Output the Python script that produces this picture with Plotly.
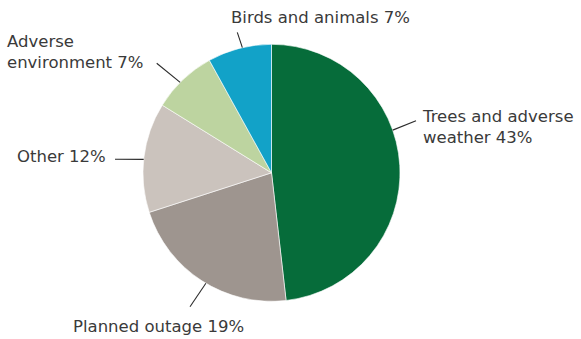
import math
import plotly.graph_objects as go

# ---- data ----
categories = ["Trees and adverse weather", "Planned outage", "Other",
              "Adverse environment", "Birds and animals"]
values = [42.6, 19.3, 12.2, 7.2, 7.1]
pct_labels = ["43%", "19%", "12%", "7%", "7%"]
label_text = ["Trees and adverse<br>weather", "Planned outage", "Other",
              "Adverse<br>environment", "Birds and animals"]

# ---- style ----
colors = ["#066C3A", "#9E958F", "#CBC3BD", "#BDD4A0", "#12A2C8"]
W, H = 581, 339
cx, cy, R = 271.5, 172.8, 128.5
FONT = "DejaVu Sans"
TXT = "#3a3a3a"

# leader: angle (deg clockwise from 12 o'clock) where line meets pie, outer end (px)
leader_angle = [70.6, 210.7, 276.0, 314.7, 346.9]
leader_end = [(416, 120.7), (190, 306.7), (115, 159.3), (156.7, 63.3), (237.3, 32.3)]
# text placement (px) and anchors
text_pos = [(420, 126.5, "left", "middle"),
            (158, 326, "center", "middle"),
            (108, 156.5, "right", "middle"),
            (5, 52, "left", "middle"),
            (229, 17, "left", "middle")]
text_align = ["left", "center", "right", "left", "left"]

def px(x):
    return x / W

def py(y):
    return 1 - y / H

fig = go.Figure(go.Pie(
    labels=categories, values=values, sort=False, direction="clockwise",
    rotation=0, textinfo="none", hoverinfo="skip", showlegend=False,
    marker=dict(colors=colors, line=dict(color="white", width=0.6)),
    domain=dict(x=[px(cx - R), px(cx + R)], y=[py(cy + R), py(cy - R)]),
))

shapes = []
annotations = []
for i in range(len(categories)):
    a = math.radians(leader_angle[i])
    sx, sy = cx + R * math.sin(a), cy - R * math.cos(a)
    ex, ey = leader_end[i]
    shapes.append(dict(type="line", xref="paper", yref="paper",
                       x0=px(sx), y0=py(sy), x1=px(ex), y1=py(ey),
                       line=dict(color="#2b2b2b", width=1.1)))
    tx, ty, xa, ya = text_pos[i]
    annotations.append(dict(xref="paper", yref="paper", x=px(tx), y=py(ty),
                            xanchor=xa, yanchor=ya, align=text_align[i],
                            showarrow=False,
                            text=f"{label_text[i]} {pct_labels[i]}",
                            font=dict(family=FONT, size=16.5, color=TXT)))

fig.update_layout(width=W, height=H, margin=dict(l=0, r=0, t=0, b=0),
                  paper_bgcolor="white", plot_bgcolor="white",
                  shapes=shapes, annotations=annotations)

fig.write_html("out.html")
